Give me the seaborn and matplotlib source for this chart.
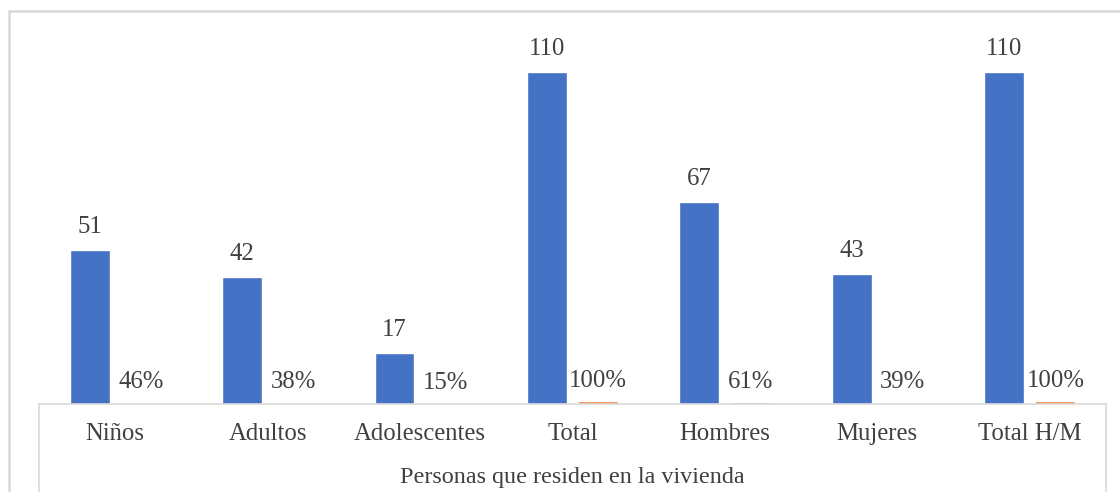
import matplotlib
matplotlib.use("Agg")
import matplotlib.pyplot as plt
import seaborn as sns
import pandas as pd
from matplotlib.patches import Rectangle
from matplotlib.lines import Line2D

categories = ["Niños", "Adultos", "Adolescentes", "Total", "Hombres", "Mujeres", "Total H/M"]
counts = [51, 42, 17, 110, 67, 43, 110]
shares = [0.46, 0.38, 0.15, 1.00, 0.61, 0.39, 1.00]
x_title = "Personas que residen en la vivienda"

df = pd.DataFrame({
    "cat": categories * 2,
    "serie": ["Cantidad"] * len(categories) + ["Porcentaje"] * len(categories),
    "valor": counts + shares,
})

sns.set_theme(style="white")
plt.rcParams["font.family"] = ["Liberation Serif", "DejaVu Serif"]

W, H = 1120, 492
fig = plt.figure(figsize=(W / 100, H / 100), dpi=100)
base_y = 404
top_y = base_y - 120 * 3.018
ax = fig.add_axes([39 / W, (H - base_y) / H, (1106 - 39) / W, (base_y - top_y) / H])

sns.barplot(data=df, x="cat", y="valor", hue="serie", order=categories,
            palette=["#4472C4", "#ED7D31"], width=0.67, gap=0.22,
            legend=False, ax=ax, saturation=1)

txt = "#404040"
fs = 17.8
ax.bar_label(ax.containers[0], labels=[str(v) for v in counts], padding=8.5,
             fontsize=fs, color=txt)
ax.bar_label(ax.containers[1], labels=[f"{round(v*100)}%" for v in shares], padding=6.8,
             fontsize=fs, color=txt)

ax.set_ylim(0, 120)
ax.set_xlim(-0.5, len(categories) - 0.5)
ax.set_yticks([])
ax.set_ylabel("")
ax.set_xlabel(x_title, fontsize=17.4, color=txt, labelpad=16)
ax.tick_params(axis="x", length=0, pad=13.8, labelsize=fs, labelcolor=txt)
for s in ["left", "right", "top"]:
    ax.spines[s].set_visible(False)
ax.spines["bottom"].set_color("#D9D9D9")
ax.spines["bottom"].set_linewidth(1.2)

grey = "#D9D9D9"
for xp in (39, 1106):
    fig.add_artist(Line2D([xp / W, xp / W], [0, (H - base_y) / H],
                          transform=fig.transFigure, color=grey, lw=1.2))
fig.add_artist(Rectangle((9 / W, -0.05), 1.2, (H - 11) / H + 0.05,
                         transform=fig.transFigure, fill=False,
                         edgecolor=grey, lw=1.8))

fig.savefig("out.png", dpi=100)
